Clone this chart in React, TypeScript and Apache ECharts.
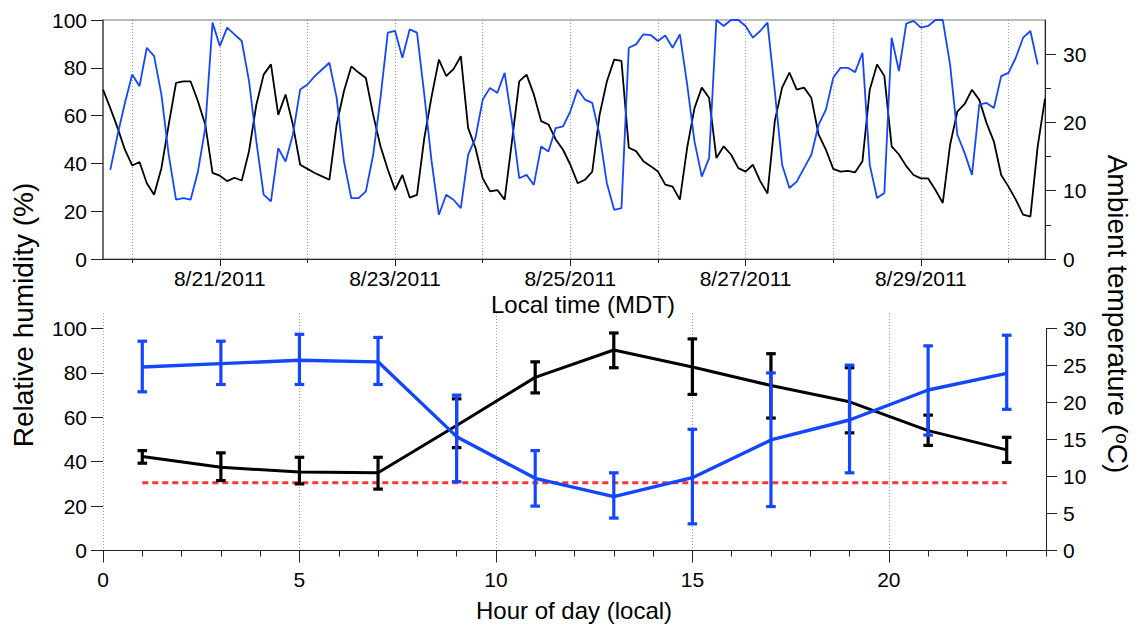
import React, { useEffect, useRef } from 'react';
import * as echarts from 'echarts';

// ---------- Top panel: time series (t = hours since 8/19/2011 16:00 MDT) ----------
const topStepHours = 2;
const topAxisMaxHours = 258;
const dayHours = [8, 32, 56, 80, 104, 128, 152, 176, 200, 224, 248];
const dateTickHours = [32, 80, 128, 176, 224];
const dateTickLabels = ['8/21/2011', '8/23/2011', '8/25/2011', '8/27/2011', '8/29/2011'];

// Ambient temperature (°C), right axis
const temperatureTop = [
  24.8, 22.1, 19.2, 16.0, 13.7, 14.2, 11.1, 9.4, 13.3, 19.7,
  25.8, 26.0, 26.0, 23.1, 19.7, 12.6, 12.2, 11.4, 11.9, 11.5,
  15.8, 22.6, 27.0, 28.5, 21.1, 24.1, 19.7, 13.8, 13.2, 12.6,
  12.1, 11.6, 19.7, 24.6, 28.2, 27.3, 26.5, 21.1, 16.5, 13.1,
  10.1, 12.3, 9.0, 9.4, 17.7, 23.8, 29.2, 26.8, 27.8, 29.7,
  19.2, 16.3, 11.8, 9.9, 10.1, 8.7, 17.2, 26.0, 27.0, 24.1,
  20.2, 19.7, 17.5, 16.0, 13.8, 11.1, 11.6, 12.8, 21.1, 26.0,
  29.2, 29.0, 16.3, 15.8, 14.3, 13.6, 12.8, 10.9, 10.6, 8.7,
  16.3, 22.1, 25.1, 23.6, 14.8, 16.5, 15.3, 13.3, 12.8, 13.8,
  11.4, 9.6, 20.2, 25.1, 27.3, 24.8, 25.1, 23.6, 18.2, 16.0,
  13.2, 12.8, 12.9, 12.7, 14.3, 24.8, 28.5, 26.8, 16.5, 15.3,
  13.6, 12.3, 11.8, 11.8, 10.1, 8.2, 16.7, 21.6, 22.7, 24.8,
  23.3, 19.9, 17.2, 12.3, 10.6, 8.7, 6.5, 6.2, 16.5, 23.5,
];

// Relative humidity (%), left axis
const humidityTop = [
  null, 37.3, 52.0, 65.3, 77.2, 72.3, 88.4, 84.9, 68.8, 43.6,
  24.8, 25.5, 24.8, 36.6, 54.8, 98.9, 89.1, 96.8, 94.0, 91.2,
  74.4, 49.2, 26.9, 24.1, 46.4, 40.8, 52.0, 70.9, 73.0, 76.5,
  79.3, 82.1, 67.4, 40.8, 25.5, 25.5, 28.3, 43.6, 67.4, 94.7,
  95.4, 84.2, 96.1, 94.7, 68.8, 40.8, 18.5, 26.9, 24.8, 21.3,
  43.6, 50.6, 66.7, 71.6, 69.5, 77.9, 57.6, 33.8, 35.2, 31.0,
  47.1, 45.0, 54.8, 55.5, 61.8, 70.9, 66.7, 65.3, 52.0, 31.7,
  20.6, 21.3, 88.4, 89.8, 94.0, 93.7, 91.2, 93.5, 88.4, 94.0,
  73.0, 49.2, 34.5, 42.2, 100, 97.5, 100, 100, 97.5, 92.6,
  95.4, 98.9, 70.2, 39.4, 29.7, 32.4, 38.0, 43.6, 56.2, 62.5,
  75.8, 80.0, 80.0, 78.2, 86.3, 39.4, 25.5, 27.6, 92.6, 78.6,
  98.5, 99.6, 96.8, 97.5, 100, 100, 81.4, 52.0, 44.3, 35.2,
  64.6, 65.3, 63.2, 76.5, 77.9, 84.2, 92.6, 95.4, 81.4, null,
];

// ---------- Bottom panel: diurnal averages ----------
const hourOfDay = [1, 3, 5, 7, 9, 11, 13, 15, 17, 19, 21, 23];
const humidityMean = [82.7, 84.2, 85.7, 85.0, 51.3, 32.5, 24.3, 32.8, 49.8, 58.8, 72.3, 79.8];
const humidityLow = [71.5, 74.8, 74.8, 74.8, 31.0, 20.0, 14.6, 12.0, 19.8, 35.0, 52.0, 63.6];
const humidityHigh = [94.3, 94.3, 97.4, 96.0, 70.0, 45.0, 35.0, 54.6, 80.0, 83.5, 92.2, 97.0];
const temperatureMean = [12.7, 11.25, 10.6, 10.5, 16.9, 23.4, 27.1, 24.8, 22.3, 20.1, 16.2, 13.6];
const temperatureLow = [11.8, 9.45, 9.0, 8.3, 13.9, 21.3, 24.7, 21.1, 17.9, 15.9, 14.2, 11.9];
const temperatureHigh = [13.5, 13.2, 12.6, 12.6, 20.5, 25.5, 29.4, 28.6, 26.6, 24.7, 18.3, 15.3];
const thresholdHours = [1, 23];
const thresholdRH = 30.5;

const hourAxisMax = 24;
const hourTicks = [0, 5, 10, 15, 20];
const hourMinorTicks = [1, 2, 3, 4, 6, 7, 8, 9, 11, 12, 13, 14, 16, 17, 18, 19, 21, 22, 23, 24];
const rhTicks = [0, 20, 40, 60, 80, 100];
const tempTicksTop = [0, 10, 20, 30];
const tempTicksBottom = [0, 5, 10, 15, 20, 25, 30];

const FONT = '"Liberation Sans", Arial, sans-serif';
const BLUE = '#1346ff';
const BLACK = '#000000';
const RED = '#ff3333';

function errorBars(lo: number[], hi: number[], yAxisIndex: number, color: string) {
  return {
    type: 'custom',
    xAxisIndex: 2,
    yAxisIndex,
    encode: { x: 0, y: [1, 2] },
    data: hourOfDay.map((h, i) => [h, lo[i], hi[i]]),
    z: 4,
    renderItem: (_params: any, api: any) => {
      const x = api.value(0);
      const a = api.coord([x, api.value(1)]);
      const b = api.coord([x, api.value(2)]);
      const hw = 4.8;
      const style = { stroke: color, lineWidth: 3.2 };
      return {
        type: 'group',
        children: [
          { type: 'line', shape: { x1: a[0], y1: a[1], x2: b[0], y2: b[1] }, style },
          { type: 'line', shape: { x1: a[0] - hw, y1: a[1], x2: a[0] + hw, y2: a[1] }, style },
          { type: 'line', shape: { x1: b[0] - hw, y1: b[1], x2: b[0] + hw, y2: b[1] }, style },
        ],
      };
    },
  };
}

const labelStyle = { color: '#000', fontSize: 21, fontFamily: FONT };

export default function App() {
  const ref = useRef<HTMLDivElement>(null);
  useEffect(() => {
    if (!ref.current) return;
    const chart = echarts.init(ref.current, undefined, { renderer: 'svg' });
    const option: any = {
      animation: false,
      backgroundColor: '#ffffff',
      grid: [
        { left: 103, right: 95, top: 20, height: 239, show: true, borderColor: '#777', borderWidth: 1, backgroundColor: 'transparent' },
        { left: 103, right: 94, top: 313, height: 237.5 },
      ],
      xAxis: [
        {
          gridIndex: 0, type: 'value', min: 0, max: topAxisMaxHours, position: 'bottom',
          axisLine: { show: true, onZero: false, lineStyle: { color: '#222', width: 1 } },
          axisTick: { show: true, customValues: dayHours, length: 4, lineStyle: { color: '#222' } },
          axisLabel: {
            ...labelStyle, margin: 9, customValues: dateTickHours,
            formatter: (v: number) => { const i = dateTickHours.indexOf(v); return i >= 0 ? dateTickLabels[i] : ''; },
          },
          splitLine: { show: true, lineStyle: { color: '#9a9a9a', width: 1, type: [1, 2] } },
        },
        {
          gridIndex: 0, type: 'value', min: 0, max: topAxisMaxHours, position: 'bottom',
          axisLine: { show: false, onZero: false },
          axisTick: { show: true, customValues: dateTickHours, length: 7, lineStyle: { color: '#222' } },
          axisLabel: { show: false },
          splitLine: { show: false },
        },
        {
          gridIndex: 1, type: 'value', min: 0, max: hourAxisMax, position: 'bottom',
          axisLine: { show: true, onZero: false, lineStyle: { color: '#222', width: 1 } },
          axisTick: { show: true, customValues: hourTicks, length: 12, lineStyle: { color: '#222' } },
          axisLabel: { ...labelStyle, margin: 18, customValues: hourTicks },
          splitLine: { show: true, lineStyle: { color: '#9a9a9a', width: 1, type: [1, 2] } },
        },
        {
          gridIndex: 1, type: 'value', min: 0, max: hourAxisMax, position: 'bottom',
          axisLine: { show: false, onZero: false },
          axisTick: { show: true, customValues: hourMinorTicks, length: 6, lineStyle: { color: '#222' } },
          axisLabel: { show: false },
          splitLine: { show: false },
        },
      ],
      yAxis: [
        {
          gridIndex: 0, type: 'value', min: 0, max: 100, interval: 20, position: 'left',
          axisLine: { show: true, onZero: false, lineStyle: { color: '#555', width: 1.5 } },
          axisTick: { show: true, length: 12, lineStyle: { color: '#222' } },
          axisLabel: { ...labelStyle, margin: 16 },
          splitLine: { show: false },
        },
        {
          gridIndex: 0, type: 'value', min: 0, max: 35, interval: 10, position: 'right',
          axisLine: { show: true, onZero: false, lineStyle: { color: '#222', width: 1 } },
          axisTick: { show: true, customValues: tempTicksTop, length: 11, lineStyle: { color: '#222' } },
          minorTick: { show: true, splitNumber: 2, length: 6, lineStyle: { color: '#222' } },
          axisLabel: { ...labelStyle, margin: 18, customValues: tempTicksTop },
          splitLine: { show: false },
        },
        {
          gridIndex: 1, type: 'value', min: 0, max: 107, position: 'left',
          axisLine: { show: false, onZero: false },
          axisTick: { show: true, customValues: rhTicks, length: 12, lineStyle: { color: '#222' } },
          axisLabel: { ...labelStyle, margin: 16, customValues: rhTicks },
          splitLine: { show: false },
        },
        {
          gridIndex: 1, type: 'value', min: 0, max: 32.1, position: 'right',
          axisLine: { show: false, onZero: false },
          axisTick: { show: true, customValues: tempTicksBottom, length: 11, lineStyle: { color: '#222' } },
          axisLabel: { ...labelStyle, margin: 17, customValues: tempTicksBottom },
          splitLine: { show: false },
        },
      ],
      series: [
        {
          type: 'line', xAxisIndex: 0, yAxisIndex: 1, showSymbol: false, z: 2,
          data: temperatureTop.map((v, i) => [i * topStepHours, v]),
          lineStyle: { color: BLACK, width: 1.8 }, itemStyle: { color: BLACK },
        },
        {
          type: 'line', xAxisIndex: 0, yAxisIndex: 0, showSymbol: false, z: 3,
          data: humidityTop.map((v, i) => [i * topStepHours, v]),
          lineStyle: { color: BLUE, width: 1.8 }, itemStyle: { color: BLUE },
        },
        {
          type: 'line', xAxisIndex: 2, yAxisIndex: 2, showSymbol: false, z: 2,
          data: thresholdHours.map((h) => [h, thresholdRH]),
          lineStyle: { color: RED, width: 3, type: [6, 4] }, itemStyle: { color: RED },
        },
        {
          type: 'line', xAxisIndex: 2, yAxisIndex: 3, showSymbol: false, z: 3,
          data: hourOfDay.map((h, i) => [h, temperatureMean[i]]),
          lineStyle: { color: BLACK, width: 3 }, itemStyle: { color: BLACK },
          markLine: {
            silent: true, symbol: 'none', label: { show: false },
            lineStyle: { color: '#222', width: 1, type: 'solid' },
            data: [[{ coord: [hourAxisMax, 0] }, { coord: [hourAxisMax, tempTicksBottom[tempTicksBottom.length - 1]] }]],
          },
        },
        errorBars(temperatureLow, temperatureHigh, 3, BLACK),
        {
          type: 'line', xAxisIndex: 2, yAxisIndex: 2, showSymbol: false, z: 3,
          data: hourOfDay.map((h, i) => [h, humidityMean[i]]),
          lineStyle: { color: BLUE, width: 3.4 }, itemStyle: { color: BLUE },
        },
        errorBars(humidityLow, humidityHigh, 2, BLUE),
      ],
      graphic: [
        {
          type: 'text', x: 583, y: 304, silent: true,
          style: { text: 'Local time (MDT)', fontSize: 24, fontFamily: FONT, fill: '#000', align: 'center', verticalAlign: 'middle' },
        },
        {
          type: 'text', x: 574, y: 610, silent: true,
          style: { text: 'Hour of day (local)', fontSize: 24, fontFamily: FONT, fill: '#000', align: 'center', verticalAlign: 'middle' },
        },
        {
          type: 'text', x: 23, y: 315, rotation: Math.PI / 2, silent: true,
          style: { text: 'Relative humidity (%)', fontSize: 28, fontFamily: FONT, fill: '#000', align: 'center', verticalAlign: 'middle' },
        },
        {
          type: 'text', x: 1117, y: 314, rotation: -Math.PI / 2, silent: true,
          style: {
            text: '{a|Ambient temperature (}{s|o}{a|C)}',
            align: 'center', verticalAlign: 'middle', fill: '#000',
            rich: {
              a: { fontSize: 28, fontFamily: FONT, fill: '#000', lineHeight: 30 },
              s: { fontSize: 19, fontFamily: FONT, fill: '#000', verticalAlign: 'top', lineHeight: 19, padding: [0, 0, 14, 0] },
            },
          },
        },
      ],
    };
    chart.setOption(option);
    return () => chart.dispose();
  }, []);
  return (
    <div
      ref={ref}
      style={{ position: 'fixed', left: 0, top: 0, width: 1140, height: 625, background: '#fff' }}
    />
  );
}
